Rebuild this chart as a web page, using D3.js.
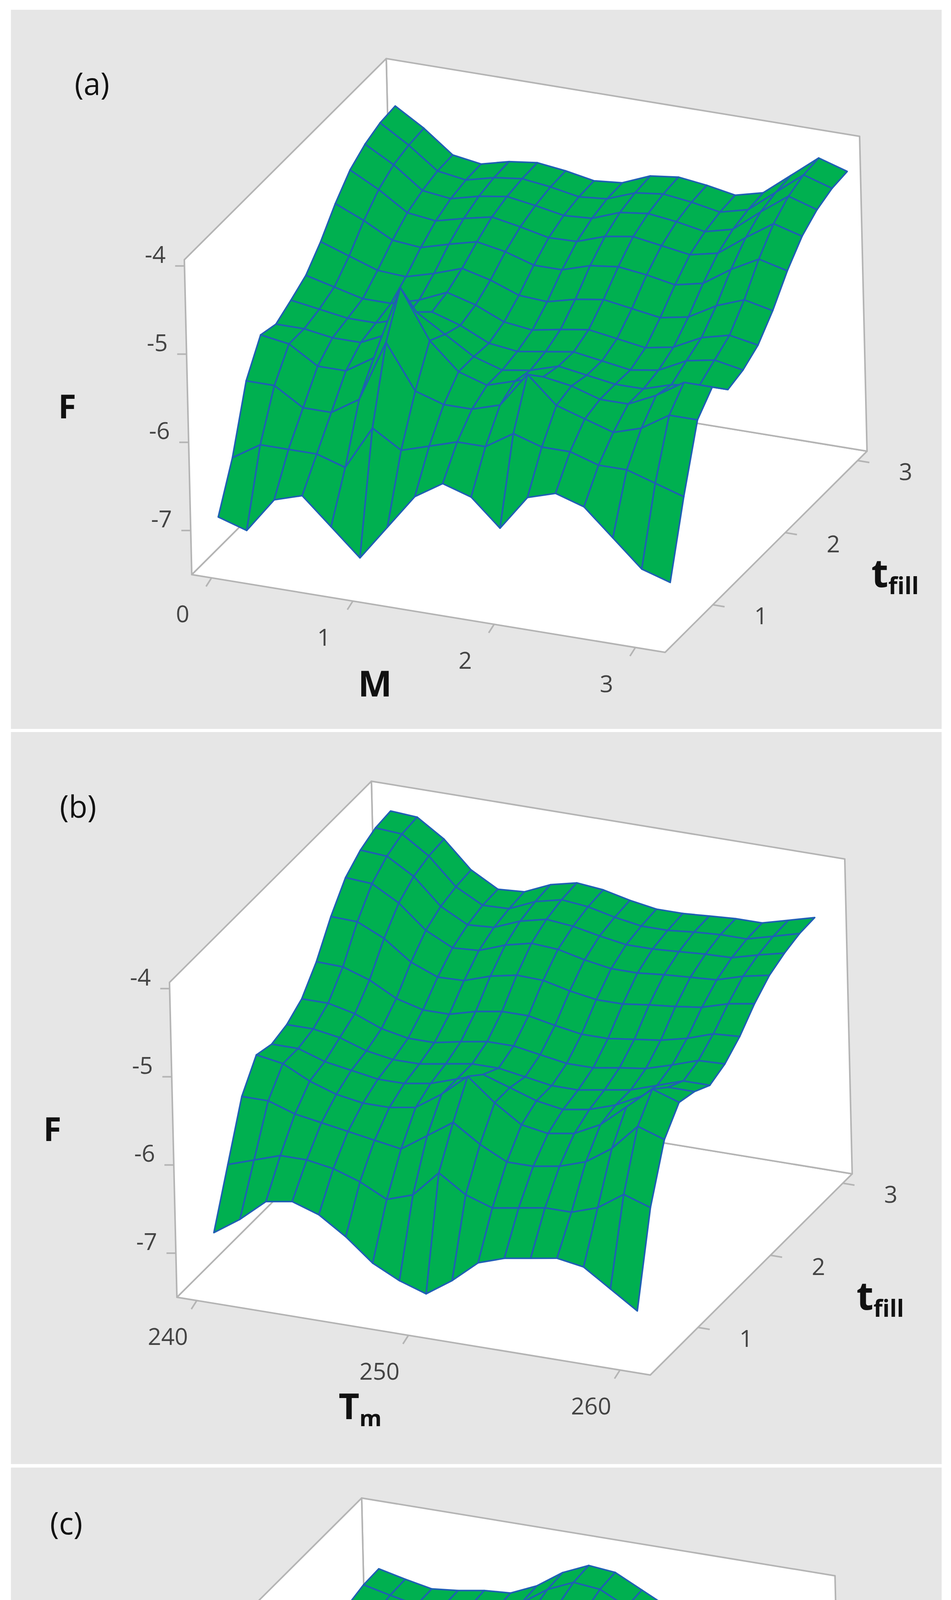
<!DOCTYPE html>
<html>
<head>
<meta charset="utf-8">
<script src="https://cdn.jsdelivr.net/npm/d3@7"></script>
<style>
  body { margin: 0; background: #fff; }
  svg { display: block; }
</style>
</head>
<body>
<svg id="chart" width="2435" height="5595"></svg>
<script>
// t_fill grid (rows) shared by all panels
const tVals = [0.45, 0.66, 0.87, 1.08, 1.29, 1.5, 1.71, 1.92, 2.13, 2.34, 2.55, 2.76, 2.97];

// panel (a): M
const xA = [0, 0.2, 0.4, 0.6, 0.8, 1.0, 1.2, 1.4, 1.6, 1.8, 2.0, 2.2, 2.4, 2.6, 2.8, 3.0, 3.2];
const fA = [
  [-6.9, -7.0, -6.6, -6.5, -6.8, -7.1, -6.7, -6.3, -6.1, -6.2, -6.5, -6.1, -6.0, -6.1, -6.4, -6.7, -6.8],
  [-6.4, -6.2, -6.2, -6.2, -6.3, -5.8, -6.0, -5.9, -5.8, -5.8, -5.6, -5.7, -5.7, -5.8, -5.8, -5.9, -6.0],
  [-5.7, -5.7, -5.9, -5.9, -5.7, -5.0, -5.5, -5.6, -5.6, -5.5, -5.1, -5.4, -5.5, -5.6, -5.5, -5.3, -5.3],
  [-5.35, -5.4, -5.6, -5.6, -5.4, -4.55, -5.1, -5.4, -5.5, -5.4, -5.3, -5.35, -5.45, -5.45, -5.3, -5.1, -5.1],
  [-5.4, -5.4, -5.45, -5.45, -5.3, -5.0, -5.2, -5.4, -5.5, -5.45, -5.35, -5.4, -5.45, -5.45, -5.35, -5.3, -5.3],
  [-5.3, -5.35, -5.4, -5.4, -5.3, -5.17, -5.27, -5.42, -5.46, -5.41, -5.36, -5.41, -5.46, -5.41, -5.25, -5.19, -5.25],
  [-5.19, -5.27, -5.35, -5.35, -5.26, -5.12, -5.21, -5.35, -5.39, -5.33, -5.28, -5.33, -5.38, -5.32, -5.16, -5.08, -5.14],
  [-4.98, -5.09, -5.2, -5.22, -5.13, -5.02, -5.1, -5.22, -5.24, -5.16, -5.11, -5.16, -5.21, -5.15, -4.97, -4.85, -4.92],
  [-4.72, -4.86, -5.03, -5.06, -4.97, -4.89, -4.95, -5.05, -5.05, -4.95, -4.91, -4.95, -5.01, -4.94, -4.73, -4.56, -4.64],
  [-4.51, -4.68, -4.89, -4.93, -4.85, -4.78, -4.84, -4.91, -4.9, -4.79, -4.74, -4.79, -4.84, -4.77, -4.54, -4.33, -4.42],
  [-4.39, -4.57, -4.81, -4.85, -4.77, -4.72, -4.77, -4.83, -4.81, -4.69, -4.65, -4.69, -4.75, -4.67, -4.42, -4.19, -4.29],
  [-4.32, -4.52, -4.76, -4.81, -4.73, -4.69, -4.73, -4.79, -4.76, -4.64, -4.6, -4.64, -4.7, -4.62, -4.37, -4.12, -4.22],
  [-4.3, -4.5, -4.75, -4.8, -4.72, -4.68, -4.72, -4.78, -4.75, -4.62, -4.58, -4.62, -4.68, -4.6, -4.35, -4.1, -4.2]
];

// panel (b): T_m
const xB = [240.5, 241.75, 243, 244.25, 245.5, 246.75, 248, 249.25, 250.5, 251.75, 253, 254.25, 255.5, 256.75, 258, 259.25, 260.5];
const fB = [
  [-6.8, -6.6, -6.35, -6.3, -6.4, -6.6, -6.85, -7.0, -7.1, -6.9, -6.65, -6.55, -6.5, -6.45, -6.5, -6.7, -6.9],
  [-6.2, -6.1, -6.0, -6.0, -6.05, -6.15, -6.3, -6.2, -5.9, -6.1, -6.2, -6.15, -6.1, -6.1, -6.0, -5.8, -5.9],
  [-5.6, -5.6, -5.7, -5.75, -5.8, -5.85, -5.9, -5.7, -5.5, -5.7, -5.85, -5.85, -5.8, -5.7, -5.5, -5.2, -5.3],
  [-5.3, -5.35, -5.5, -5.6, -5.65, -5.65, -5.6, -5.4, -5.15, -5.4, -5.6, -5.65, -5.6, -5.45, -5.2, -4.95, -5.05],
  [-5.35, -5.35, -5.45, -5.5, -5.55, -5.55, -5.5, -5.4, -5.3, -5.4, -5.5, -5.55, -5.5, -5.4, -5.25, -5.1, -5.1],
  [-5.3, -5.3, -5.35, -5.45, -5.5, -5.5, -5.45, -5.4, -5.4, -5.45, -5.5, -5.5, -5.45, -5.4, -5.3, -5.2, -5.2],
  [-5.18, -5.18, -5.25, -5.37, -5.43, -5.43, -5.37, -5.32, -5.32, -5.37, -5.42, -5.42, -5.37, -5.33, -5.24, -5.14, -5.13],
  [-4.93, -4.94, -5.04, -5.2, -5.28, -5.28, -5.2, -5.15, -5.15, -5.21, -5.26, -5.26, -5.22, -5.18, -5.11, -5.01, -4.99],
  [-4.59, -4.6, -4.74, -4.96, -5.08, -5.07, -4.97, -4.91, -4.92, -4.99, -5.04, -5.04, -5.0, -4.97, -4.93, -4.84, -4.79],
  [-4.32, -4.34, -4.51, -4.77, -4.92, -4.9, -4.79, -4.72, -4.74, -4.81, -4.86, -4.86, -4.83, -4.81, -4.79, -4.7, -4.64],
  [-4.18, -4.2, -4.38, -4.67, -4.83, -4.81, -4.69, -4.62, -4.65, -4.71, -4.76, -4.76, -4.74, -4.72, -4.71, -4.63, -4.56],
  [-4.1, -4.12, -4.32, -4.62, -4.78, -4.77, -4.64, -4.57, -4.6, -4.67, -4.72, -4.72, -4.69, -4.67, -4.67, -4.59, -4.51],
  [-4.08, -4.1, -4.3, -4.6, -4.77, -4.75, -4.62, -4.55, -4.58, -4.65, -4.7, -4.7, -4.68, -4.66, -4.66, -4.58, -4.5]
];

// panel (c): T_M
const xC = [40.5, 43, 45.5, 48, 50.5, 53, 55.5, 58, 60.5, 63, 65.5, 68, 70.5, 73, 75.5, 78, 80.5];
const fC = [
  [-6.8, -6.3, -6.15, -6.3, -6.7, -6.96, -6.6, -6.5, -6.8, -7.07, -6.6, -6.25, -6.15, -6.15, -6.25, -6.35, -6.45],
  [-5.8, -5.3, -5.7, -6.0, -6.1, -6.0, -6.2, -6.1, -6.0, -5.9, -6.1, -5.95, -5.85, -5.85, -5.9, -5.9, -5.9],
  [-4.9, -4.3, -5.2, -5.6, -5.8, -5.2, -5.7, -5.7, -5.6, -5.2, -5.6, -5.6, -5.55, -5.55, -5.55, -5.4, -5.3],
  [-5.0, -4.8, -5.1, -5.4, -5.55, -5.3, -5.45, -5.5, -5.45, -5.35, -5.45, -5.45, -5.45, -5.45, -5.35, -5.15, -5.15],
  [-5.2, -5.1, -5.2, -5.35, -5.45, -5.4, -5.45, -5.45, -5.4, -5.4, -5.45, -5.45, -5.45, -5.45, -5.35, -5.25, -5.2],
  [-5.25, -5.25, -5.3, -5.35, -5.4, -5.4, -5.4, -5.4, -5.35, -5.35, -5.4, -5.45, -5.45, -5.45, -5.35, -5.3, -5.25],
  [-5.18, -5.19, -5.24, -5.28, -5.32, -5.32, -5.3, -5.28, -5.23, -5.23, -5.29, -5.35, -5.36, -5.37, -5.28, -5.23, -5.17],
  [-5.04, -5.06, -5.11, -5.14, -5.16, -5.15, -5.11, -5.05, -4.98, -4.99, -5.07, -5.15, -5.18, -5.2, -5.13, -5.08, -5.02],
  [-4.84, -4.88, -4.94, -4.94, -4.94, -4.92, -4.85, -4.73, -4.64, -4.65, -4.76, -4.87, -4.93, -4.97, -4.93, -4.87, -4.81],
  [-4.69, -4.75, -4.8, -4.79, -4.76, -4.74, -4.64, -4.48, -4.37, -4.39, -4.52, -4.65, -4.73, -4.79, -4.77, -4.7, -4.64],
  [-4.61, -4.67, -4.73, -4.71, -4.66, -4.64, -4.53, -4.34, -4.22, -4.25, -4.39, -4.53, -4.62, -4.69, -4.68, -4.61, -4.55],
  [-4.56, -4.63, -4.69, -4.66, -4.62, -4.6, -4.47, -4.27, -4.14, -4.17, -4.32, -4.47, -4.57, -4.64, -4.63, -4.56, -4.5],
  [-4.55, -4.62, -4.68, -4.65, -4.6, -4.58, -4.45, -4.25, -4.12, -4.15, -4.3, -4.45, -4.55, -4.62, -4.62, -4.55, -4.49]
];

const zTicks = [-4, -5, -6, -7];
const tTicks = [1, 2, 3];

const panels = [
  { tag: "(a)", xs: xA, fs: fA, xDom: [-0.14, 3.21], xTicks: [0, 1, 2, 3], xName: "M", xSub: "", top: 25, bottom: 1866, origin: [491, 1471] },
  { tag: "(b)", xs: xB, fs: fB, xDom: [239.06, 261.43], xTicks: [240, 250, 260], xName: "T", xSub: "m", top: 1874, bottom: 3748, origin: [453, 3321] },
  { tag: "(c)", xs: xC, fs: fC, xDom: [37.9, 82.8], xTicks: [40, 60, 80], xName: "T", xSub: "M", top: 3757, bottom: 5585, origin: [428, 5156] }
];

// screen vectors of the box edges (x, t_fill, F)
const VX = [1212, 199], VT = [517, -515], VZ = [-19, -806];

const svg = d3.select("#chart");
const tickFont = "'Open Sans', 'DejaVu Sans', sans-serif";

panels.forEach(p => {
  const g = svg.append("g");
  g.append("rect").attr("x", 28).attr("y", p.top).attr("width", 2383).attr("height", p.bottom - p.top).attr("fill", "#e6e6e6");

  const sx = d3.scaleLinear().domain(p.xDom).range([0, 1]);
  const st = d3.scaleLinear().domain([0.34, 3.13]).range([0, 1]);
  const sz = d3.scaleLinear().domain([-7.5, -3.93]).range([0, 1]);
  const [ox, oy] = p.origin;
  const proj = (x, t, z) => {
    const a = sx(x), b = st(t), c = sz(z);
    return [ox + VX[0] * a + VT[0] * b + VZ[0] * c, oy + VX[1] * a + VT[1] * b + VZ[1] * c];
  };
  const [x0, x1] = p.xDom, [t0, t1] = st.domain(), [z0, z1] = sz.domain();
  const poly = pts => "M" + pts.map(q => q.join(",")).join("L") + "Z";

  // walls
  const walls = [
    [proj(x0, t0, z0), proj(x1, t0, z0), proj(x1, t1, z0), proj(x0, t1, z0)],
    [proj(x0, t1, z0), proj(x1, t1, z0), proj(x1, t1, z1), proj(x0, t1, z1)],
    [proj(x0, t0, z0), proj(x0, t1, z0), proj(x0, t1, z1), proj(x0, t0, z1)]
  ];
  g.selectAll("path.wall").data(walls).enter().append("path")
    .attr("class", "wall").attr("d", poly)
    .attr("fill", "#fff").attr("stroke", "#b4b4b4").attr("stroke-width", 4).attr("stroke-linejoin", "round");

  // z ticks
  zTicks.forEach(z => {
    const [px, py] = proj(x0, t0, z);
    g.append("line").attr("x1", px).attr("y1", py).attr("x2", px - 24).attr("y2", py)
      .attr("stroke", "#b4b4b4").attr("stroke-width", 4);
    g.append("text").attr("x", px - 48).attr("y", py - 8).attr("text-anchor", "end")
      .attr("font-family", tickFont).attr("font-size", 60).attr("fill", "#444").text(z);
  });
  // x ticks
  p.xTicks.forEach(v => {
    const [px, py] = proj(v, t0, z0);
    g.append("line").attr("x1", px).attr("y1", py).attr("x2", px - 14).attr("y2", py + 22)
      .attr("stroke", "#b4b4b4").attr("stroke-width", 4);
    g.append("text").attr("x", px - 74).attr("y", py + 114).attr("text-anchor", "middle")
      .attr("font-family", tickFont).attr("font-size", 60).attr("fill", "#444").text(v);
  });
  // t ticks
  tTicks.forEach(v => {
    const [px, py] = proj(x1, v, z0);
    g.append("line").attr("x1", px).attr("y1", py).attr("x2", px + 30).attr("y2", py + 5)
      .attr("stroke", "#b4b4b4").attr("stroke-width", 4);
    g.append("text").attr("x", px + 123).attr("y", py + 50).attr("text-anchor", "middle")
      .attr("font-family", tickFont).attr("font-size", 60).attr("fill", "#444").text(v);
  });

  // surface cells, painted far to near
  const cells = [];
  for (let i = 0; i < tVals.length - 1; i++) {
    for (let j = 0; j < p.xs.length - 1; j++) {
      const pts = [
        proj(p.xs[j], tVals[i], p.fs[i][j]),
        proj(p.xs[j + 1], tVals[i], p.fs[i][j + 1]),
        proj(p.xs[j + 1], tVals[i + 1], p.fs[i + 1][j + 1]),
        proj(p.xs[j], tVals[i + 1], p.fs[i + 1][j])
      ];
      const depth = VX[1] * sx((p.xs[j] + p.xs[j + 1]) / 2) + VT[1] * st((tVals[i] + tVals[i + 1]) / 2);
      cells.push({ pts, depth });
    }
  }
  cells.sort((a, b) => a.depth - b.depth);
  g.selectAll("path.cell").data(cells).enter().append("path")
    .attr("class", "cell").attr("d", d => poly(d.pts))
    .attr("fill", "#00b050").attr("stroke", "#1f5fb4").attr("stroke-width", 4).attr("stroke-linejoin", "round");

  // labels
  const boldFont = "'Open Sans', 'DejaVu Sans', sans-serif";
  g.append("text").attr("x", ox - 300).attr("y", oy - 1228).attr("font-family", "'Open Sans', sans-serif")
    .attr("font-size", 78).attr("fill", "#111").text(p.tag);
  g.append("text").attr("x", ox - 319).attr("y", oy - 400).attr("text-anchor", "middle")
    .attr("font-family", boldFont).attr("font-weight", 700).attr("font-size", 84).attr("fill", "#111").text("F");
  const xl = g.append("text").attr("x", ox + 469).attr("y", oy + 312).attr("text-anchor", "middle")
    .attr("font-family", boldFont).attr("font-weight", 700).attr("font-size", 92).attr("fill", "#111");
  xl.append("tspan").text(p.xName);
  if (p.xSub) xl.append("tspan").attr("font-size", 58).attr("dy", 18).text(p.xSub);
  const tl = g.append("text").attr("x", ox + 1740).attr("y", oy + 32)
    .attr("font-family", boldFont).attr("font-weight", 700).attr("font-size", 100).attr("fill", "#111");
  tl.append("tspan").text("t");
  tl.append("tspan").attr("font-size", 60).attr("dy", 18).text("fill");
});
</script>
</body>
</html>
